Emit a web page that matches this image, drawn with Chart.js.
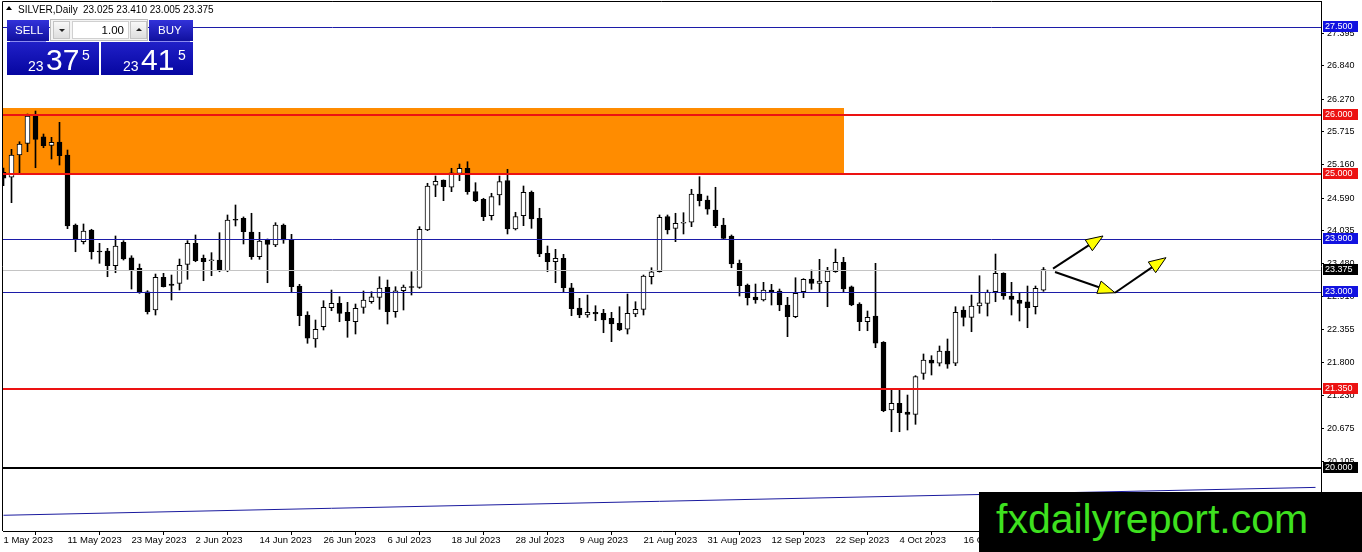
<!DOCTYPE html>
<html>
<head>
<meta charset="utf-8">
<script src="https://cdn.jsdelivr.net/npm/chart.js@4.4.1/dist/chart.umd.min.js"></script>
<style>
html,body{margin:0;padding:0;background:#fff;}
#wrap{position:relative;width:1362px;height:552px;overflow:hidden;background:#fff;}
#c{position:absolute;left:0;top:0;}
.abs{position:absolute;white-space:nowrap;}
.ff{font-family:'Liberation Sans',Arial,sans-serif;}
#hdr{left:18px;top:4px;font-size:10px;line-height:11px;color:#000;}
#hdrNum{left:83px;top:4px;font-size:10px;line-height:11px;color:#000;}
#tri{left:6px;top:6px;width:0;height:0;border-left:3px solid transparent;border-right:3px solid transparent;border-bottom:4px solid #000;}
.blue{position:absolute;background:linear-gradient(#3232da,#10109e);}
.big{position:absolute;background:linear-gradient(#2020c8,#0606a0);}
.wt{color:#fff;}
#grp{left:50px;top:19px;width:98px;height:22px;background:#f4f4f4;border:1px solid #bdbdbd;box-sizing:border-box;}
.spin{position:absolute;top:1px;width:17px;height:18px;background:linear-gradient(#f8f8f8,#dedede);border:1px solid #c4c4c4;box-sizing:border-box;}
#field{position:absolute;left:21px;top:1px;width:57px;height:18px;background:#fff;border:1px solid #d0d0d0;box-sizing:border-box;}
#logo{left:979px;top:492px;width:383px;height:60px;background:#000;}
#logoTxt{left:996px;top:492px;font-size:41px;line-height:54px;color:#3ee11f;}
</style>
</head>
<body>
<div id="wrap">
<canvas id="c" width="1362" height="552"></canvas>

<div id="tri" class="abs"></div>
<div id="hdr" class="abs ff">SILVER,Daily</div>
<div id="hdrNum" class="abs ff">23.025 23.410 23.005 23.375</div>

<div class="blue" style="left:7px;top:20px;width:42px;height:21px;"></div>
<div class="abs ff wt" style="left:15px;top:24px;font-size:11.5px;line-height:12px;">SELL</div>
<div id="grp" class="abs">
  <div class="spin" style="left:2px;"><div class="abs" style="left:5px;top:7px;width:0;height:0;border-left:3px solid transparent;border-right:3px solid transparent;border-top:3px solid #222;"></div></div>
  <div id="field"><div class="abs ff" style="right:4px;top:2px;font-size:11.5px;line-height:12px;color:#000;">1.00</div></div>
  <div class="spin" style="left:79px;"><div class="abs" style="left:5px;top:6px;width:0;height:0;border-left:3px solid transparent;border-right:3px solid transparent;border-bottom:3px solid #222;"></div></div>
</div>
<div class="blue" style="left:149px;top:20px;width:44px;height:21px;"></div>
<div class="abs ff wt" style="left:158px;top:24px;font-size:11.5px;line-height:12px;">BUY</div>

<div class="big" style="left:7px;top:42px;width:92px;height:33px;"></div>
<div class="abs" style="left:10px;top:41px;width:36px;height:1px;background:#8a8af0;"></div>
<div class="abs ff wt" style="left:28px;top:59px;font-size:14px;line-height:14px;">23</div>
<div class="abs ff wt" style="left:46px;top:45px;font-size:30px;line-height:30px;">37</div>
<div class="abs ff wt" style="left:82px;top:48px;font-size:14px;line-height:14px;">5</div>

<div class="big" style="left:101px;top:42px;width:92px;height:33px;"></div>
<div class="abs" style="left:150px;top:41px;width:40px;height:1px;background:#8a8af0;"></div>
<div class="abs ff wt" style="left:123px;top:59px;font-size:14px;line-height:14px;">23</div>
<div class="abs ff wt" style="left:141px;top:45px;font-size:30px;line-height:30px;">41</div>
<div class="abs ff wt" style="left:178px;top:48px;font-size:14px;line-height:14px;">5</div>

<div id="logo" class="abs"></div>
<div id="logoTxt" class="abs ff">fxdailyreport.com</div>
</div>

<script>
// ---- Data ----
const tickIdx = [0, 8, 16, 24, 32, 40, 48, 56, 64, 72, 80, 88, 96, 104, 112, 120, 128];
const tickLabels = ['1 May 2023','11 May 2023','23 May 2023','2 Jun 2023','14 Jun 2023','26 Jun 2023','6 Jul 2023','18 Jul 2023','28 Jul 2023','9 Aug 2023','21 Aug 2023','31 Aug 2023','12 Sep 2023','22 Sep 2023','4 Oct 2023','16 Oct 2023','26 Oct 2023'];

const openP = [25.030,24.944,25.323,25.522,25.986,25.634,25.488,25.544,25.323,24.133,
23.849,24.048,23.678,23.690,23.440,23.838,23.576,23.396,22.998,22.687,
23.243,23.129,23.141,23.464,23.821,23.566,23.525,23.537,23.355,24.218,
24.247,24.014,23.594,23.878,23.793,24.133,23.890,23.095,22.602,22.194,
22.403,22.726,22.801,22.648,22.488,22.733,22.828,22.903,23.073,22.658,
23.015,23.073,23.073,24.048,24.808,24.898,24.774,25.012,25.097,24.699,
24.570,24.291,24.643,24.886,24.065,24.291,24.689,24.247,23.651,23.508,
23.566,23.066,22.721,22.602,22.648,22.631,22.546,22.461,22.359,22.619,
22.699,23.253,23.338,24.274,24.076,24.162,24.179,24.660,24.558,24.388,
24.133,23.946,23.481,23.112,22.908,22.857,23.027,23.010,22.772,22.573,
22.998,23.214,23.141,23.168,23.338,23.498,23.083,22.789,22.488,22.585,
22.138,20.986,21.100,20.952,20.913,21.610,21.837,21.781,21.990,21.781,
22.687,22.563,22.755,22.801,22.998,23.311,22.925,22.852,22.828,22.743,
23.025];
const highP = [25.100,25.420,25.549,26.020,26.071,25.680,25.624,25.879,25.408,24.150,
24.150,24.060,23.821,23.736,23.946,23.866,23.610,23.469,23.015,23.299,
23.311,23.282,23.554,23.866,23.963,23.622,23.662,24.002,24.303,24.473,
24.270,24.332,24.008,23.895,24.172,24.150,23.974,23.124,22.658,22.517,
22.845,23.027,22.913,22.818,22.789,23.010,22.998,23.253,23.197,23.083,
23.112,23.338,24.104,24.842,24.966,24.900,25.097,25.170,25.209,24.852,
24.587,24.672,24.966,25.080,24.349,24.796,24.711,24.417,23.776,23.719,
23.634,23.141,22.886,22.942,22.760,22.699,22.648,22.743,22.959,22.828,
23.282,23.406,24.303,24.303,24.332,24.342,24.740,24.954,24.626,24.774,
24.247,23.963,23.537,23.129,23.129,23.158,23.124,23.044,22.903,23.236,
23.220,23.367,23.549,23.413,23.724,23.583,23.095,22.811,22.670,23.481,
22.150,21.327,21.327,21.241,21.570,21.939,21.910,22.075,22.194,22.743,
22.743,22.942,23.270,23.027,23.639,23.320,23.158,22.988,23.095,23.095,
23.410];
const lowP = [24.800,24.512,25.012,25.379,25.107,25.447,25.255,25.153,24.070,23.678,
23.810,23.554,23.481,23.253,23.321,23.537,23.044,22.971,22.619,22.602,
23.078,22.857,23.027,23.209,23.508,23.185,23.270,23.338,23.338,24.116,
23.810,23.549,23.549,23.151,23.764,23.821,22.981,22.420,22.121,22.053,
22.347,22.675,22.488,22.223,22.279,22.631,22.801,22.699,22.449,22.563,
22.687,22.942,23.056,24.036,24.614,24.546,24.699,24.886,24.655,24.529,
24.206,24.218,24.473,23.980,24.048,24.121,24.076,23.594,23.338,23.151,
22.998,22.590,22.556,22.563,22.505,22.301,22.148,22.335,22.279,22.573,
22.602,23.129,23.333,23.980,23.849,23.980,24.104,24.456,24.315,24.087,
23.895,23.406,22.925,22.772,22.801,22.840,22.772,22.675,22.233,22.556,
22.896,23.039,22.988,22.743,23.328,22.998,22.760,22.335,22.335,22.046,
20.957,20.617,20.617,20.646,20.743,21.508,21.582,21.735,21.696,21.740,
22.415,22.318,22.631,22.585,22.828,22.869,22.602,22.500,22.386,22.619,
23.005];
const closeP = [24.930,25.323,25.510,25.986,25.590,25.481,25.539,25.311,24.116,23.895,
24.031,23.678,23.673,23.440,23.776,23.554,23.367,22.981,22.658,23.243,
23.083,23.107,23.447,23.821,23.525,23.508,23.530,23.355,24.218,24.213,
24.019,23.594,23.861,23.804,24.133,23.878,23.083,22.590,22.206,22.359,
22.733,22.801,22.631,22.505,22.716,22.857,22.913,23.061,22.658,23.015,
23.078,23.070,24.059,24.796,24.876,24.784,25.022,25.097,24.699,24.546,
24.274,24.614,24.869,24.065,24.274,24.689,24.235,23.639,23.508,23.566,
23.066,22.709,22.602,22.648,22.619,22.517,22.449,22.347,22.631,22.699,
23.265,23.338,24.264,24.048,24.162,24.167,24.660,24.546,24.400,24.121,
23.906,23.469,23.100,22.896,22.857,23.027,22.988,22.772,22.573,22.971,
23.209,23.141,23.180,23.350,23.498,23.044,22.772,22.488,22.563,22.121,
20.974,21.100,20.940,20.913,21.553,21.837,21.781,21.990,21.764,22.648,
22.563,22.755,22.811,22.988,23.311,22.925,22.869,22.801,22.726,23.056,
23.375];

const yTickValues = [27.395, 26.840, 26.270, 25.715, 25.160, 24.590, 24.035, 23.480, 22.910, 22.355, 21.800, 21.230, 20.675, 20.105];

// horizontal levels
const levelValues = [27.500, 26.000, 25.000, 23.900, 23.375, 23.000, 21.350, 20.000];
const levelLineColors = ['#1c1ca8','#ec1212','#ec1212','#1c1ca8','#c4c4c4','#1c1ca8','#ec1212','#000000'];
const levelLineWidths = [1, 2, 2, 1, 1, 1, 2, 2];
const levelBoxColors = ['#1212e0','#ec1212','#ec1212','#1212e0','#000000','#1212e0','#ec1212','#000000'];

// supply zone rectangle
const zoneX = [-2, 105];
const zonePrice = [26.120, 25.000];

// rising trend line
const trendX = [0, 164];
const trendY = [19.196, 19.670];

// arrows (index, price)
const arrowFromX = [131.19, 131.44, 138.94];
const arrowFromY = [23.390, 23.333, 22.980];
const arrowToX = [137.44, 138.94, 145.31];
const arrowToY = [23.946, 22.980, 23.577];

// ---- Chart ----
const FONT = "'Liberation Sans', Arial, sans-serif";
const idx = openP.map((_, i) => i);
const bodyData = idx.map(i => ({ x: i, y: [openP[i], closeP[i]] }));
const wickData = idx.map(i => ({ x: i, y: [lowP[i], highP[i]] }));
const bodyColors = idx.map(i => (closeP[i] >= openP[i] ? '#ffffff' : '#000000'));

const overlay = {
  id: 'overlay',
  beforeDatasetsDraw(chart) {
    const { ctx, chartArea: a, scales: { x, y } } = chart;
    ctx.save();
    ctx.beginPath();
    ctx.rect(a.left, a.top, a.right - a.left, a.bottom - a.top);
    ctx.clip();
    const x0 = Math.max(a.left, x.getPixelForValue(zoneX[0]));
    const x1 = Math.round(x.getPixelForValue(zoneX[1]));
    const y0 = Math.round(y.getPixelForValue(zonePrice[0]));
    const y1 = Math.round(y.getPixelForValue(zonePrice[1]));
    ctx.fillStyle = '#ff8c00';
    ctx.fillRect(x0, y0, x1 - x0, y1 - y0);
    ctx.restore();
  },
  afterDatasetsDraw(chart) {
    const { ctx, chartArea: a, scales: { x, y } } = chart;
    ctx.save();
    ctx.beginPath();
    ctx.rect(a.left, a.top, a.right - a.left, a.bottom - a.top);
    ctx.clip();
    levelValues.forEach((v, k) => {
      const w = levelLineWidths[k];
      let py = Math.round(y.getPixelForValue(v));
      if (w % 2 === 1) py += 0.5;
      ctx.strokeStyle = levelLineColors[k];
      ctx.lineWidth = w;
      ctx.beginPath();
      ctx.moveTo(a.left, py);
      ctx.lineTo(a.right, py);
      ctx.stroke();
    });
    // arrows
    arrowFromX.forEach((fx, k) => {
      const sx = x.getPixelForValue(fx), sy = y.getPixelForValue(arrowFromY[k]);
      const ex = x.getPixelForValue(arrowToX[k]), ey = y.getPixelForValue(arrowToY[k]);
      const ang = Math.atan2(ey - sy, ex - sx);
      const L = 17, W = 6.5;
      const bx = ex - L * Math.cos(ang), by = ey - L * Math.sin(ang);
      ctx.strokeStyle = '#000';
      ctx.lineWidth = 2;
      ctx.beginPath();
      ctx.moveTo(sx, sy);
      ctx.lineTo(bx + 3 * Math.cos(ang), by + 3 * Math.sin(ang));
      ctx.stroke();
      ctx.beginPath();
      ctx.moveTo(ex, ey);
      ctx.lineTo(bx + W * Math.sin(ang), by - W * Math.cos(ang));
      ctx.lineTo(bx - W * Math.sin(ang), by + W * Math.cos(ang));
      ctx.closePath();
      ctx.fillStyle = '#ffff00';
      ctx.fill();
      ctx.lineWidth = 1;
      ctx.stroke();
    });
    ctx.restore();
    // frame (left & top)
    ctx.save();
    ctx.strokeStyle = '#000';
    ctx.lineWidth = 1;
    ctx.beginPath();
    ctx.moveTo(a.left - 0.5, a.bottom);
    ctx.lineTo(a.left - 0.5, a.top + 0.5);
    ctx.lineTo(a.right, a.top + 0.5);
    ctx.stroke();
    ctx.restore();
  },
  afterDraw(chart) {
    const { ctx, scales: { y } } = chart;
    ctx.save();
    ctx.font = '9px ' + FONT;
    ctx.textBaseline = 'middle';
    ctx.textAlign = 'left';
    levelValues.forEach((v, k) => {
      const py = Math.round(y.getPixelForValue(v));
      ctx.fillStyle = levelBoxColors[k];
      ctx.fillRect(1323, py - 6, 35, 11);
      ctx.fillStyle = '#ffffff';
      ctx.fillText(v.toFixed(3), 1325, py - 0.5);
    });
    ctx.restore();
  }
};

new Chart(document.getElementById('c'), {
  type: 'bar',
  data: {
    datasets: [
      { type: 'bar', data: bodyData, backgroundColor: bodyColors, borderColor: '#000000', borderWidth: 1,
        borderSkipped: false, barThickness: 5, grouped: false, order: 0, minBarLength: 1 },
      { type: 'bar', data: wickData, backgroundColor: '#000000', borderWidth: 0,
        barThickness: 1, grouped: false, order: 1 },
      { type: 'line', data: trendX.map((tx, k) => ({ x: tx, y: trendY[k] })), borderColor: '#1a1a9e',
        borderWidth: 1, pointRadius: 0, order: 2 }
    ]
  },
  options: {
    responsive: false,
    animation: false,
    devicePixelRatio: 1,
    layout: { padding: { left: 3, top: 1, right: 0, bottom: 0 } },
    plugins: { legend: { display: false }, tooltip: { enabled: false } },
    scales: {
      x: {
        type: 'linear', min: -0.0625, max: 164.6875, offset: false,
        grid: { display: true, drawOnChartArea: false, drawTicks: true, tickLength: 4, color: '#000000' },
        border: { display: true, color: '#000000' },
        ticks: {
          align: 'start', maxRotation: 0, minRotation: 0, autoSkip: false, padding: 0,
          color: '#000000', font: { family: FONT, size: 9.5 },
          callback: (v) => { const k = tickIdx.indexOf(v); return k >= 0 ? tickLabels[k] : ''; }
        },
        afterBuildTicks: (s) => { s.ticks = tickIdx.map(v => ({ value: v })); },
        afterFit: (s) => { s.height = 21; s.paddingLeft = 0; s.paddingRight = 0; s.paddingTop = 0; s.paddingBottom = 0; }
      },
      y: {
        type: 'linear', position: 'right', min: 18.9286, max: 27.9422,
        grid: { display: true, drawOnChartArea: false, drawTicks: true, tickLength: 3, color: '#000000' },
        border: { display: true, color: '#000000' },
        ticks: {
          autoSkip: false, padding: 3, color: '#000000', font: { family: FONT, size: 9 },
          callback: (v) => Number(v).toFixed(3)
        },
        afterBuildTicks: (s) => { s.ticks = yTickValues.map(v => ({ value: v })); },
        afterFit: (s) => { s.width = 41; s.paddingLeft = 0; s.paddingRight = 0; s.paddingTop = 0; s.paddingBottom = 0; }
      }
    }
  },
  plugins: [overlay]
});
</script>
</body>
</html>
